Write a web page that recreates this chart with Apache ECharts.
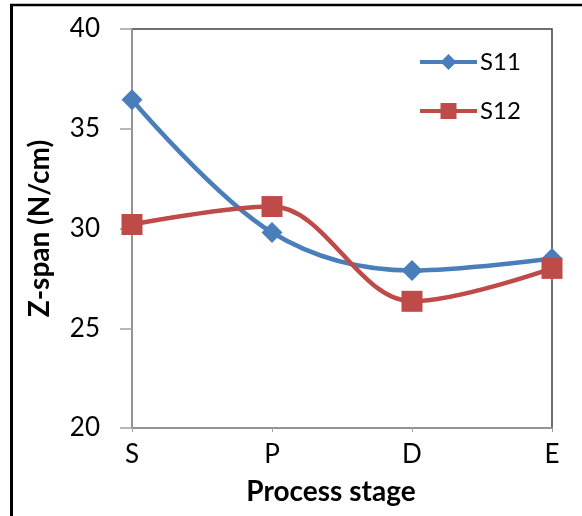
<!DOCTYPE html>
<html>
<head>
<meta charset="utf-8">
<script src="https://cdn.jsdelivr.net/npm/echarts@6/dist/echarts.min.js"></script>
<style>html,body{margin:0;padding:0;background:#fff}#c{width:582px;height:516px}</style>
</head>
<body>
<div id="c"></div>
<script>
const categories = ['S', 'P', 'D', 'E'];
const s11 = [36.45, 29.8, 27.9, 28.5];
const s12 = [30.2, 31.1, 26.35, 28.0];
const yTicks = [20, 25, 30, 35, 40];

const font = 'Lato, "Open Sans", sans-serif';
const chart = echarts.init(document.getElementById('c'), null, {renderer: 'canvas'});
chart.setOption({
  animation: false,
  backgroundColor: '#fff',
  grid: {left: 132, top: 29, right: 30, bottom: 88, show: true, borderColor: '#404040', borderWidth: 1.5, backgroundColor: 'transparent'},
  graphic: [
    {type: 'line', shape: {x1: 11.5, y1: 4, x2: 11.5, y2: 516}, style: {stroke: '#000', lineWidth: 3}, z: 100},
    {type: 'line', shape: {x1: 10, y1: 5, x2: 582, y2: 5}, style: {stroke: '#000', lineWidth: 2.5}, z: 100}
  ],
  legend: {
    orient: 'vertical', left: 413, top: 45, itemWidth: 57, itemHeight: 20, itemGap: 25,
    lineStyle: {width: 4},
    textStyle: {fontFamily: font, fontSize: 24, color: '#000', padding: [0, 0, 0, -2]},
    data: ['S11', 'S12']
  },
  xAxis: {
    type: 'category', data: categories, boundaryGap: false,
    name: 'Process stage', nameLocation: 'middle', nameGap: 50,
    nameTextStyle: {fontFamily: font, fontSize: 28, fontWeight: 'bold', color: '#000', padding: [0, 22, 0, 0]},
    axisLine: {lineStyle: {color: '#a0a0a0', width: 1.5}},
    axisTick: {show: true, length: 4, lineStyle: {color: '#a0a0a0'}},
    axisLabel: {fontFamily: font, fontSize: 26, color: '#000', margin: 14}
  },
  yAxis: {
    type: 'value', min: yTicks[0], max: yTicks[yTicks.length - 1], interval: 5,
    name: 'Z-span (N/cm)', nameLocation: 'middle', nameGap: 78, nameRotate: 90,
    nameTextStyle: {fontFamily: font, fontSize: 28, fontWeight: 'bold', color: '#000'},
    axisLine: {show: true, lineStyle: {color: '#a0a0a0', width: 1.5}},
    axisTick: {show: true, length: 12, lineStyle: {color: '#a0a0a0', width: 1.5}},
    splitLine: {show: false},
    axisLabel: {fontFamily: font, fontSize: 26, color: '#000', margin: 32}
  },
  series: [
    {name: 'S11', type: 'line', data: s11, smooth: 0.35, symbol: 'diamond', symbolSize: 21,
     itemStyle: {color: '#4a7ebb'}, lineStyle: {color: '#4a7ebb', width: 4.5}, z: 3},
    {name: 'S12', type: 'line', data: s12, smooth: 0.35, symbol: 'rect', symbolSize: 21,
     itemStyle: {color: '#be4b48'}, lineStyle: {color: '#be4b48', width: 4.5}, z: 4}
  ]
});
</script>
</body>
</html>
